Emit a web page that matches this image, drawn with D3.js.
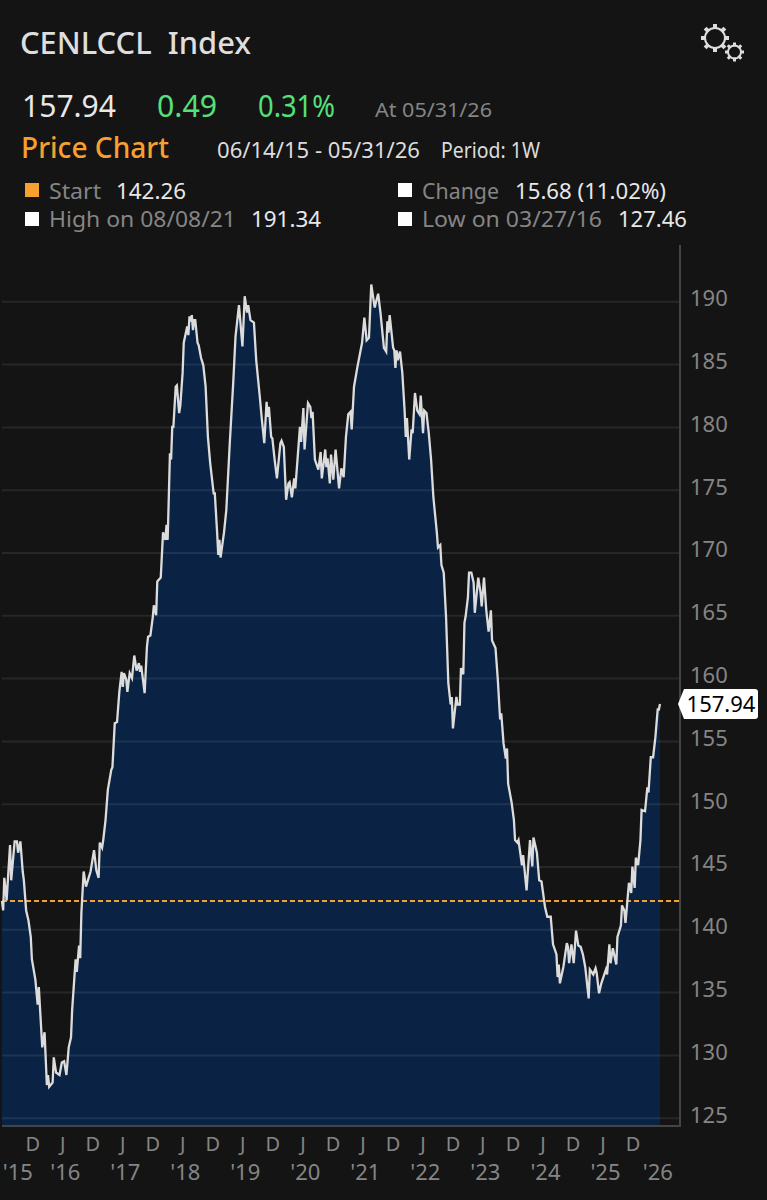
<!DOCTYPE html>
<html>
<head>
<meta charset="utf-8">
<script src="https://cdn.jsdelivr.net/npm/d3@7"></script>
<style>
  html, body { margin: 0; padding: 0; background: #141414; }
  svg { display: block; }
  text { font-family: "Noto Sans", sans-serif; }
</style>
</head>
<body>
<div id="chart"></div>
<script>
const startDate = new Date(2015, 5, 14);
const endDate = new Date(2026, 4, 31);
const lastPrice = 157.94;
const startPrice = 142.26;

const weeks = [0,1,2,4,7,8,11,13,14,16,18,19,21,23,25,26,29,31,32,34,35,37,39,40,41,44,45,47,50,52,54,56,58,60,61,64,65,67,68,69,71,73,77,80,82,84,85,87,88,90,92,95,96,98,100,102,104,105,106,108,109,111,113,115,117,119,120,121,124,126,127,129,131,132,134,135,138,140,142,143,144,145,146,147,148,149,151,152,154,155,157,158,161,162,163,164,165,166,167,168,170,171,173,175,177,179,181,184,185,187,188,189,190,193,195,198,199,201,203,206,209,211,213,214,216,219,221,224,226,228,230,231,232,234,235,237,239,242,243,245,247,249,250,252,254,255,259,260,262,263,266,268,269,270,272,275,277,278,281,282,283,285,286,288,290,293,295,297,299,301,303,304,306,309,313,315,317,319,321,324,325,327,329,332,334,335,336,337,340,341,342,343,344,346,348,350,351,352,354,356,357,359,361,363,364,366,367,369,371,373,375,378,379,381,382,384,386,388,390,391,392,395,396,398,399,401,402,403,405,406,408,410,411,414,416,417,419,421,423,425,426,429,431,433,434,436,438,439,440,443,445,446,448,449,452,453,456,459,461,462,465,467,469,472,474,477,479,482,483,484,485,488,491,492,493,495,497,499,501,503,505,507,510,511,514,516,517,519,521,525,526,528,529,531,534,535,538,539,541,542,545,547,548,550,551,553,555,556,559,561,562,564,566,568,570,571,572];

const closes = [142.26,141.5,144.1,142.3,146.7,143.9,147.0,147.0,146.1,147.0,144.6,143.9,141.5,140.7,139.4,137.6,136.0,134.0,135.4,132.2,130.6,131.8,127.6,128.4,127.46,127.8,129.8,128.6,128.4,129.4,129.5,128.4,130.6,131.4,133.6,137.6,136.6,138.7,137.7,141.3,144.6,143.4,144.6,146.3,144.7,144.1,146.9,146.5,147.1,148.7,151.1,152.7,152.9,156.4,156.5,158.9,160.5,159.3,160.4,159.9,158.9,160.4,160.0,161.8,160.6,161.2,160.5,161.0,158.8,162.5,163.3,163.4,164.8,165.8,165.0,167.7,168.0,171.6,171.0,172.2,171.0,174.4,177.9,177.4,180.0,180.0,183.2,183.3,181.1,181.7,184.3,186.7,188.0,187.3,188.8,188.4,188.9,187.7,188.5,188.5,186.7,186.5,185.5,184.9,183.2,179.2,177.1,174.7,174.7,171.6,169.8,171.0,169.6,171.6,173.4,178.7,180.3,183.5,187.2,189.7,186.4,190.4,189.1,189.7,188.5,188.3,185.3,182.5,180.5,178.7,182.0,180.8,181.6,179.2,179.1,177.4,175.9,178.7,178.9,178.4,174.2,175.5,175.6,174.4,175.9,175.1,180.0,178.8,181.5,178.2,181.9,181.6,180.7,181.2,177.4,176.6,178.0,175.9,178.2,176.8,177.5,175.5,177.8,175.8,178.2,175.1,176.7,176.0,179.2,181.0,181.2,179.8,183.2,184.8,186.7,188.7,186.9,187.1,191.34,189.5,189.9,190.6,189.1,186.3,186.0,188.4,187.5,188.9,186.3,186.1,184.7,186.1,185.3,186.0,184.3,181.3,179.2,180.7,177.4,179.8,179.5,182.7,181.3,181.0,182.5,179.5,181.3,181.1,179.5,177.4,174.4,171.6,170.4,170.6,169.0,168.4,164.9,159.6,157.9,158.5,156.0,158.5,157.9,157.9,160.8,160.3,164.4,164.9,166.4,168.4,168.4,167.6,165.2,168.0,166.8,165.7,168.0,165.4,163.7,165.4,163.0,162.4,159.9,156.7,157.2,154.8,153.6,154.4,151.6,150.1,148.7,147.1,146.9,147.1,145.1,145.9,143.1,147.1,145.0,147.3,146.1,143.9,143.8,141.8,141.0,141.0,138.8,138.0,136.2,137.2,135.7,137.0,138.9,138.6,137.3,138.8,137.3,139.9,138.7,138.6,138.0,137.0,134.5,136.8,136.4,136.9,136.5,134.9,135.7,136.8,136.4,138.8,137.3,138.5,137.2,139.4,140.3,141.9,141.5,140.5,143.7,142.9,145.0,143.3,145.7,145.1,147.1,149.5,149.4,151.3,150.9,153.7,153.7,155.3,157.5,157.5,157.94];

const priceTicks = [125,130,135,140,145,150,155,160,165,170,175,180,185,190];
const monthTicks = ['2015-12-15','2016-06-15','2016-12-15','2017-06-15','2017-12-15','2018-06-15','2018-12-15','2019-06-15','2019-12-15','2020-06-15','2020-12-15','2021-06-15','2021-12-15','2022-06-15','2022-12-15','2023-06-15','2023-12-15','2024-06-15','2024-12-15','2025-06-15','2025-12-15'];
const yearTicks = ['2015-09-15','2016-06-30','2017-06-30','2018-06-30','2019-06-30','2020-06-30','2021-06-30','2022-06-30','2023-06-30','2024-06-30','2025-06-30','2026-05-15'];
const yearLabels = ["'15","'16","'17","'18","'19","'20","'21","'22","'23","'24","'25","'26"];

const width = 767;
const height = 1200;
const plot = { left: 2, right: 660, axis: 680, top: 245, bottom: 1126 };

const bg = '#141414';
const gray = '#858585';
const orange = '#f5a030';
const green = '#55e07a';

const points = weeks.map((w, i) => ({ date: d3.timeWeek.offset(startDate, w), close: closes[i] }));

const svg = d3.select('#chart').append('svg')
    .attr('width', width)
    .attr('height', height)
    .attr('viewBox', `0 0 ${width} ${height}`)
    .style('background', bg);

const xScale = d3.scaleTime().domain([startDate, endDate]).range([plot.left, plot.right]);
const yScale = d3.scaleLinear().domain([125, 190]).range([1117.7, 301.3]);
const parseDay = d3.timeParse('%Y-%m-%d');

// area under the line
const area = d3.area()
    .x(d => xScale(d.date))
    .y0(plot.bottom)
    .y1(d => yScale(d.close));

svg.append('path')
    .datum(points)
    .attr('d', area)
    .attr('fill', '#0a2344');

// gridlines sit on top of the fill
const grid = svg.append('g')
    .attr('transform', `translate(${plot.left},0)`)
    .call(d3.axisRight(yScale).tickValues(priceTicks).tickFormat('').tickSize(plot.axis - plot.left));
grid.select('.domain').remove();
grid.selectAll('line').attr('stroke', '#dfe6ee').attr('stroke-opacity', 0.09).attr('stroke-width', 2);

// start price marker
svg.append('line')
    .attr('x1', plot.left).attr('x2', plot.axis)
    .attr('y1', yScale(startPrice)).attr('y2', yScale(startPrice))
    .attr('stroke', orange)
    .attr('stroke-width', 2)
    .attr('stroke-dasharray', '5,3');

const line = d3.line()
    .x(d => xScale(d.date))
    .y(d => yScale(d.close));

svg.append('path')
    .datum(points)
    .attr('d', line)
    .attr('fill', 'none')
    .attr('stroke', '#dcdcdc')
    .attr('stroke-width', 2.3)
    .attr('stroke-linejoin', 'miter');

// frame
svg.append('path')
    .attr('d', `M${plot.axis},${plot.top}V${plot.bottom}H${plot.left}`)
    .attr('fill', 'none')
    .attr('stroke', '#444')
    .attr('stroke-width', 2);

// y axis labels
const yAxis = svg.append('g')
    .attr('transform', `translate(${plot.axis},0)`)
    .call(d3.axisRight(yScale).tickValues(priceTicks).tickSize(0).tickPadding(10));
yAxis.select('.domain').remove();
yAxis.selectAll('text')
    .attr('dy', '0.2em')
    .attr('fill', gray)
    .style('font-size', '22px')
    .style('font-family', '"Noto Sans", sans-serif');

// x axis labels, two rows
const monthAxis = svg.append('g')
    .attr('transform', `translate(0,${plot.bottom})`)
    .call(d3.axisBottom(xScale)
        .tickValues(monthTicks.map(parseDay))
        .tickFormat(d => d.getMonth() === 11 ? 'D' : 'J')
        .tickSize(0).tickPadding(11));
monthAxis.select('.domain').remove();
monthAxis.selectAll('text')
    .attr('fill', gray)
    .style('font-size', '20px')
    .style('font-family', '"Noto Sans", sans-serif');

const yearAxis = svg.append('g')
    .attr('transform', `translate(0,${plot.bottom})`)
    .call(d3.axisBottom(xScale)
        .tickValues(yearTicks.map(parseDay))
        .tickFormat((d, i) => yearLabels[i])
        .tickSize(0).tickPadding(38));
yearAxis.select('.domain').remove();
yearAxis.selectAll('text')
    .attr('fill', gray)
    .style('font-size', '22px')
    .style('font-family', '"Noto Sans", sans-serif');

// last price tag
const tagY = yScale(lastPrice);
svg.append('path')
    .attr('d', `M678,${tagY}L684,${tagY - 15}H755q3,0 3,3V${tagY + 12}q0,3 -3,3H684Z`)
    .attr('fill', '#fff');
svg.append('text')
    .attr('x', 721).attr('y', tagY + 8)
    .attr('text-anchor', 'middle')
    .attr('font-size', 22)
    .attr('fill', '#000')
    .text(lastPrice.toFixed(2));

// header text, with the width each string takes up
function label(text, x, y, size, fill, w, weight) {
    svg.append('text')
        .attr('x', x).attr('y', y)
        .attr('font-size', size)
        .attr('font-weight', weight || 400)
        .attr('fill', fill)
        .attr('textLength', w)
        .attr('lengthAdjust', 'spacingAndGlyphs')
        .style('white-space', 'pre')
        .text(text);
}

label('CENLCCL  Index', 20, 54, 30, '#dedede', 231, 500);
label('157.94', 22, 117, 30, '#e8e8e8', 94);
label('0.49', 157, 117, 30, green, 60);
label('0.31%', 258, 117, 30, green, 77);
label('At 05/31/26', 375, 117, 20, gray, 117);
label('Price Chart', 21, 158, 28, orange, 148, 500);
label('06/14/15 - 05/31/26', 217, 158, 21, '#dcdcdc', 203);
label('Period: 1W', 441, 158, 21, '#dcdcdc', 99);
label('Start', 49, 199, 22, gray, 52);
label('142.26', 116, 199, 22, '#e8e8e8', 70);
label('High on 08/08/21', 49, 227, 22, gray, 187);
label('191.34', 251, 227, 22, '#e8e8e8', 70);
label('Change', 422, 199, 22, gray, 77);
label('15.68 (11.02%)', 515, 199, 22, '#e8e8e8', 151);
label('Low on 03/27/16', 422, 227, 22, gray, 180);
label('127.46', 618, 227, 22, '#e8e8e8', 69);

// legend squares
svg.append('rect').attr('x', 25).attr('y', 183).attr('width', 14).attr('height', 14).attr('fill', orange);
svg.append('rect').attr('x', 25).attr('y', 212).attr('width', 14).attr('height', 14).attr('fill', '#fff');
svg.append('rect').attr('x', 398).attr('y', 183).attr('width', 14).attr('height', 14).attr('fill', '#fff');
svg.append('rect').attr('x', 398).attr('y', 212).attr('width', 14).attr('height', 14).attr('fill', '#fff');

// settings icon
function gear(cx, cy, r, teeth, toothSize) {
    const g = svg.append('g').attr('transform', `translate(${cx},${cy})`);
    g.append('circle').attr('r', r).attr('fill', 'none').attr('stroke', '#ddd').attr('stroke-width', 2);
    d3.range(teeth).forEach(i => {
        g.append('rect')
            .attr('x', -toothSize / 2).attr('y', -r - toothSize)
            .attr('width', toothSize).attr('height', toothSize + 1)
            .attr('fill', '#ddd')
            .attr('transform', `rotate(${i * 360 / teeth})`);
    });
}
gear(715, 38, 10, 8, 4);
gear(734.5, 52, 6.5, 8, 3);
</script>
</body>
</html>
